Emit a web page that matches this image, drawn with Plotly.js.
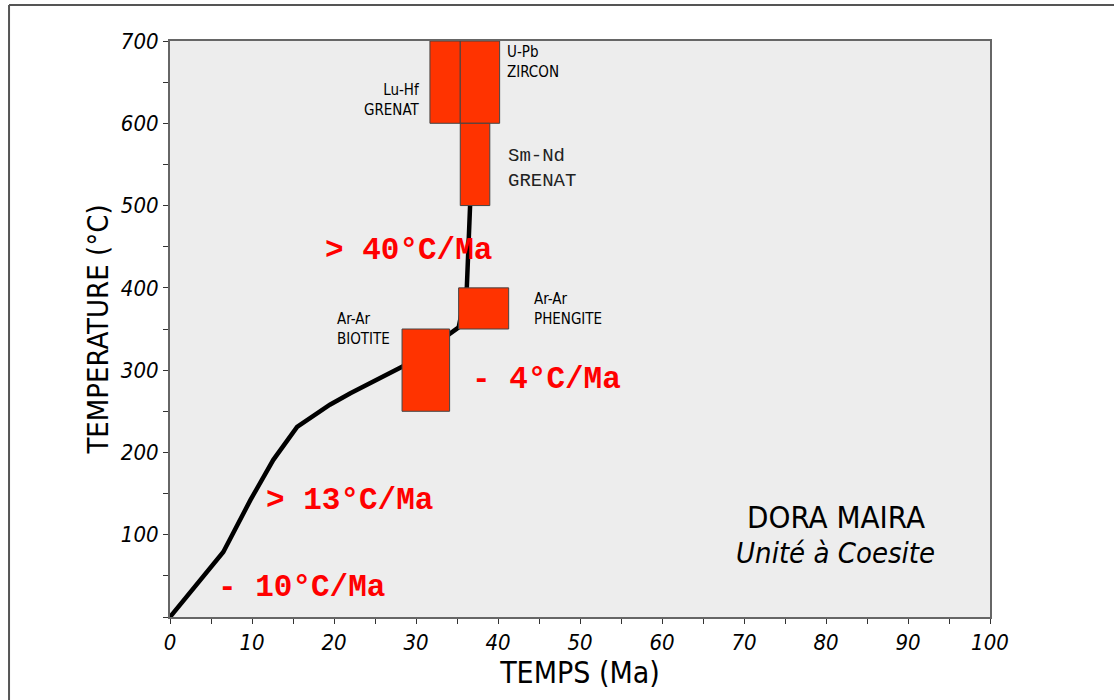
<!DOCTYPE html>
<html>
<head>
<meta charset="utf-8">
<script src="https://cdn.plot.ly/plotly-3.0.1.min.js"></script>
<style>html,body{margin:0;padding:0;background:#fff;}#chart{width:1114px;height:700px;}</style>
</head>
<body>
<div id="chart"></div>
<script>
// Cooling path (time in Ma, temperature in °C)
var pathTime = [0, 6.5, 9.8, 12.6, 15.5, 16.7, 19.5, 22, 25, 28.3, 31, 34, 35.2, 36.2, 36.6];
var pathTemp = [0, 79, 142, 191, 231, 239, 258, 272, 287, 304, 322, 343, 352, 401, 501];

// Geochronology boxes
var boxNames = ["Lu-Hf GRENAT", "U-Pb ZIRCON", "Sm-Nd GRENAT", "Ar-Ar PHENGITE", "Ar-Ar BIOTITE"];
var boxAgeMin = [31.7, 35.4, 35.4, 35.2, 28.3];
var boxAgeMax = [35.4, 40.2, 39.0, 41.3, 34.1];
var boxTempMin = [600, 600, 500, 350, 250];
var boxTempMax = [700, 700, 600, 400, 350];

// Rate labels
var rateText = ["> 40°C/Ma", "- 4°C/Ma", "> 13°C/Ma", "- 10°C/Ma"];
var rateX = [18.6, 36.6, 11.5, 5.6];
var rateY = [445, 289, 142, 36];

// Method labels
var labText = ["Lu-Hf<br>GRENAT", "U-Pb<br>ZIRCON", "Sm-Nd<br>GRENAT", "Ar-Ar<br>PHENGITE", "Ar-Ar<br>BIOTITE"];
var labX = [30.7, 40.8, 41.0, 44.2, 20.1];
var labY = [628, 675, 545, 374, 350];
var labAnchor = ["right", "left", "left", "left", "left"];
var labMono = [false, false, true, false, false];

var xTicks = [0, 10, 20, 30, 40, 50, 60, 70, 80, 90, 100];
var yTicks = [100, 200, 300, 400, 500, 600, 700];

var hand = "DejaVu Sans Condensed, Liberation Sans Narrow, sans-serif";
var mono = "Liberation Mono, Courier New, DejaVu Sans Mono, monospace";

var traces = [{
  type: "scatter", mode: "lines", x: pathTime, y: pathTemp,
  line: {color: "#000", width: 4.5}, hoverinfo: "x+y", showlegend: false
}];

var shapes = [];
for (var i = 0; i < boxNames.length; i++) {
  shapes.push({type: "rect", xref: "x", yref: "y", layer: "above",
    x0: boxAgeMin[i], x1: boxAgeMax[i], y0: boxTempMin[i], y1: boxTempMax[i],
    fillcolor: "#ff3300", line: {color: "#444", width: 1}});
}
// outer frame (top and left edges)
shapes.push({type: "line", xref: "paper", yref: "paper", x0: -0.1963, x1: 1.2, y0: 1.0625, y1: 1.0625, line: {color: "#555", width: 2}});
shapes.push({type: "line", xref: "paper", yref: "paper", x0: -0.1963, x1: -0.1963, y0: 1.0625, y1: -0.2, line: {color: "#555", width: 2}});

var annotations = [];
for (var j = 0; j < rateText.length; j++) {
  annotations.push({x: rateX[j], y: rateY[j], xref: "x", yref: "y", text: "<b>" + rateText[j] + "</b>",
    showarrow: false, xanchor: "left", yanchor: "middle",
    font: {family: mono, size: 31, color: "#ff0000"}});
}
for (var k = 0; k < labText.length; k++) {
  annotations.push({x: labX[k], y: labY[k], xref: "x", yref: "y", text: labText[k],
    showarrow: false, xanchor: labAnchor[k], yanchor: "middle", align: labAnchor[k],
    font: labMono[k] ? {family: mono, size: 19, color: "#222"} : {family: hand, size: 15, color: "#000"}});
}
annotations.push({x: 81.2, y: 122, xref: "x", yref: "y", text: "DORA MAIRA", showarrow: false,
  font: {family: hand, size: 31, color: "#000"}});
annotations.push({x: 81.2, y: 78, xref: "x", yref: "y", text: "<i>Unité à Coesite</i>", showarrow: false,
  font: {family: hand, size: 29, color: "#000"}});

var layout = {
  width: 1114, height: 700,
  margin: {l: 170, r: 124, t: 41, b: 83},
  paper_bgcolor: "#ffffff", plot_bgcolor: "#ededed",
  showlegend: false,
  xaxis: {
    range: [0, 100], tickmode: "array", tickvals: xTicks, ticktext: xTicks.map(String),
    ticks: "outside", ticklen: 5, tickcolor: "#333", showgrid: false, zeroline: false,
    showline: true, linecolor: "#666", linewidth: 2, mirror: true,
    minor: {tickmode: "linear", tick0: 0, dtick: 5, ticks: "outside", ticklen: 5, tickcolor: "#333", showgrid: false},
    tickfont: {family: hand, size: 22, color: "#000", style: "italic"},
    title: {text: "TEMPS (Ma)", font: {family: hand, size: 30, color: "#000"}, standoff: 0}
  },
  yaxis: {
    range: [0, 700], tickmode: "array", tickvals: yTicks, ticktext: yTicks.map(String),
    ticks: "outside", ticklen: 5, tickcolor: "#333", showgrid: false, zeroline: false,
    showline: true, linecolor: "#666", linewidth: 2, mirror: true,
    minor: {tickmode: "linear", tick0: 0, dtick: 50, ticks: "outside", ticklen: 5, tickcolor: "#333", showgrid: false},
    tickfont: {family: hand, size: 22, color: "#000", style: "italic"},
    title: {text: "TEMPERATURE (°C)", font: {family: hand, size: 29, color: "#000"}, standoff: 4}
  },
  shapes: shapes,
  annotations: annotations
};

Plotly.newPlot("chart", traces, layout, {displayModeBar: false, staticPlot: true});
</script>
</body>
</html>
